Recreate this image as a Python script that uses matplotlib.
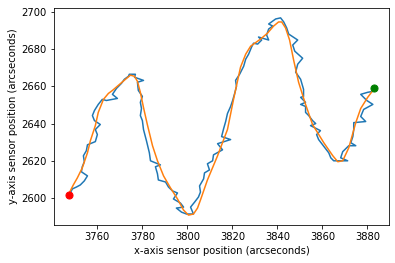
import matplotlib
matplotlib.use("Agg")
import matplotlib.pyplot as plt

# raw sensor track (arcseconds)
x_pos = [3747.5, 3748.9, 3750.7, 3752.4, 3754.2, 3755.6, 3752.9, 3753.3, 3754.2, 3753.8,
         3755.1, 3755.6, 3759.1, 3760.0, 3759.1, 3761.3, 3758.7, 3757.8, 3758.7, 3760.4,
         3762.2, 3764.0, 3768.9, 3766.7, 3768.5, 3770.7, 3772.0, 3773.8, 3774.2, 3776.9,
         3776.5, 3780.5, 3777.8, 3778.2, 3780.0, 3779.1, 3779.6, 3779.1, 3780.0, 3780.5,
         3781.8, 3783.1, 3783.6, 3788.0, 3785.8, 3786.7, 3787.1, 3790.3, 3791.6, 3793.4,
         3795.6, 3793.8, 3796.9, 3798.3, 3795.1, 3797.4, 3799.6, 3802.7, 3801.4, 3803.2,
         3804.9, 3805.8, 3805.4, 3807.2, 3807.6, 3809.8, 3808.9, 3811.2, 3811.6, 3815.6,
         3813.4, 3819.2, 3815.2, 3816.1, 3817.0, 3817.8, 3819.2, 3820.1, 3821.0, 3821.8,
         3821.4, 3823.2, 3825.0, 3825.9, 3827.2, 3828.5, 3829.4, 3831.2, 3833.0, 3831.6,
         3836.1, 3835.2, 3836.1, 3837.9, 3836.1, 3839.2, 3841.4, 3842.8, 3844.1, 3845.0,
         3849.0, 3846.8, 3847.7, 3851.2, 3849.0, 3848.1, 3850.3, 3851.6, 3851.6, 3850.3,
         3852.5, 3850.3, 3852.5, 3852.5, 3853.9, 3855.6, 3857.0, 3854.7, 3859.1, 3857.4,
         3858.3, 3860.1, 3861.4, 3862.8, 3863.7, 3865.0, 3871.2, 3868.1, 3869.0, 3871.7,
         3874.8, 3872.6, 3873.5, 3873.9, 3873.9, 3879.2, 3877.0, 3878.3, 3882.4, 3879.7,
         3877.0, 3880.1, 3882.4, 3882.8]
y_pos = [2601.6, 2604.9, 2605.9, 2607.0, 2609.2, 2611.9, 2614.1, 2616.8, 2619.5, 2622.7,
         2625.4, 2628.6, 2630.3, 2634.1, 2636.8, 2639.5, 2641.6, 2644.3, 2647.0, 2650.3,
         2653.0, 2652.4, 2653.5, 2655.7, 2658.9, 2661.6, 2663.8, 2665.4, 2666.5, 2666.5,
         2664.9, 2663.2, 2662.2, 2657.8, 2654.6, 2651.4, 2648.1, 2644.3, 2641.6, 2636.8,
         2630.8, 2624.3, 2620.0, 2617.8, 2616.8, 2613.0, 2609.7, 2608.6, 2605.9, 2603.8,
         2602.7, 2599.5, 2597.3, 2595.1, 2594.6, 2592.4, 2591.4, 2591.4, 2595.1, 2597.8,
         2600.5, 2603.2, 2606.5, 2610.3, 2613.5, 2615.1, 2618.4, 2620.0, 2623.2, 2625.9,
         2629.2, 2631.4, 2633.0, 2637.3, 2641.1, 2645.4, 2649.2, 2652.4, 2656.2, 2660.0,
         2663.2, 2666.5, 2670.8, 2674.6, 2677.3, 2681.1, 2683.2, 2682.7, 2684.9, 2686.5,
         2684.9, 2687.6, 2690.8, 2692.4, 2693.5, 2696.2, 2696.8, 2694.6, 2691.4, 2688.1,
         2684.9, 2682.2, 2678.9, 2675.1, 2671.9, 2667.6, 2663.8, 2658.4, 2654.6, 2654.1,
         2651.4, 2650.3, 2649.2, 2646.0, 2644.3, 2641.6, 2640.0, 2638.9, 2636.2, 2634.1,
         2631.4, 2628.6, 2626.5, 2624.3, 2621.6, 2620.0, 2620.0, 2621.6, 2624.9, 2628.1,
         2628.1, 2629.7, 2633.0, 2636.8, 2640.5, 2641.1, 2643.8, 2647.6, 2650.3, 2652.4,
         2655.7, 2656.8, 2657.3, 2658.9]

# smoothed track
x_smooth = [3747.5, 3749.3, 3751.1, 3753.3, 3755.6, 3756.9, 3759.1, 3760.4, 3762.7, 3764.9,
            3766.7, 3769.3, 3772.5, 3774.7, 3776.5, 3777.8, 3779.1, 3780.5, 3782.2, 3784.5,
            3786.7, 3789.4, 3792.5, 3795.6, 3798.3, 3800.5, 3802.7, 3804.5, 3805.8, 3808.9,
            3813.4, 3817.8, 3820.5, 3823.6, 3825.9, 3828.1, 3832.5, 3835.6, 3838.3, 3840.5,
            3841.9, 3843.6, 3845.4, 3847.2, 3849.4, 3852.5, 3855.6, 3860.6, 3864.6, 3866.8,
            3869.0, 3871.7, 3874.8, 3877.0, 3880.1, 3882.4]
y_smooth = [2602.7, 2607.0, 2610.8, 2616.2, 2624.3, 2630.8, 2638.9, 2646.0, 2653.0, 2656.2,
            2657.8, 2660.5, 2663.8, 2666.0, 2665.4, 2662.7, 2656.8, 2648.6, 2639.5, 2628.1,
            2620.0, 2611.9, 2605.4, 2599.5, 2593.5, 2590.8, 2591.4, 2594.6, 2598.9, 2609.7,
            2622.7, 2636.8, 2653.0, 2670.3, 2677.3, 2681.6, 2685.4, 2688.6, 2692.4, 2694.6,
            2694.6, 2691.4, 2684.9, 2674.1, 2662.2, 2650.3, 2639.5, 2629.7, 2622.7, 2619.5,
            2620.0, 2627.0, 2640.5, 2648.1, 2654.1, 2657.8]

start_pt = (3747.5, 2601.6)
end_pt = (3882.8, 2658.9)

fig = plt.figure(figsize=(395 / 72, 263 / 72), dpi=72)
ax = fig.add_axes([54 / 395, 38 / 263, 335 / 395, 217 / 263])

ax.plot(x_pos, y_pos, color='#1f77b4', lw=1.5)
ax.plot(x_smooth, y_smooth, color='#ff7f0e', lw=1.5)
ax.scatter([start_pt[0]], [start_pt[1]], color='red', s=50, zorder=3)
ax.scatter([end_pt[0]], [end_pt[1]], color='green', s=50, zorder=3)

ax.set_xticks([3760, 3780, 3800, 3820, 3840, 3860, 3880])
ax.set_yticks([2600, 2620, 2640, 2660, 2680, 2700])
ax.set_xlabel('x-axis sensor position (arcseconds)')
ax.set_ylabel('y-axis sensor position (arcseconds)')

plt.savefig('out.png', dpi=72)
